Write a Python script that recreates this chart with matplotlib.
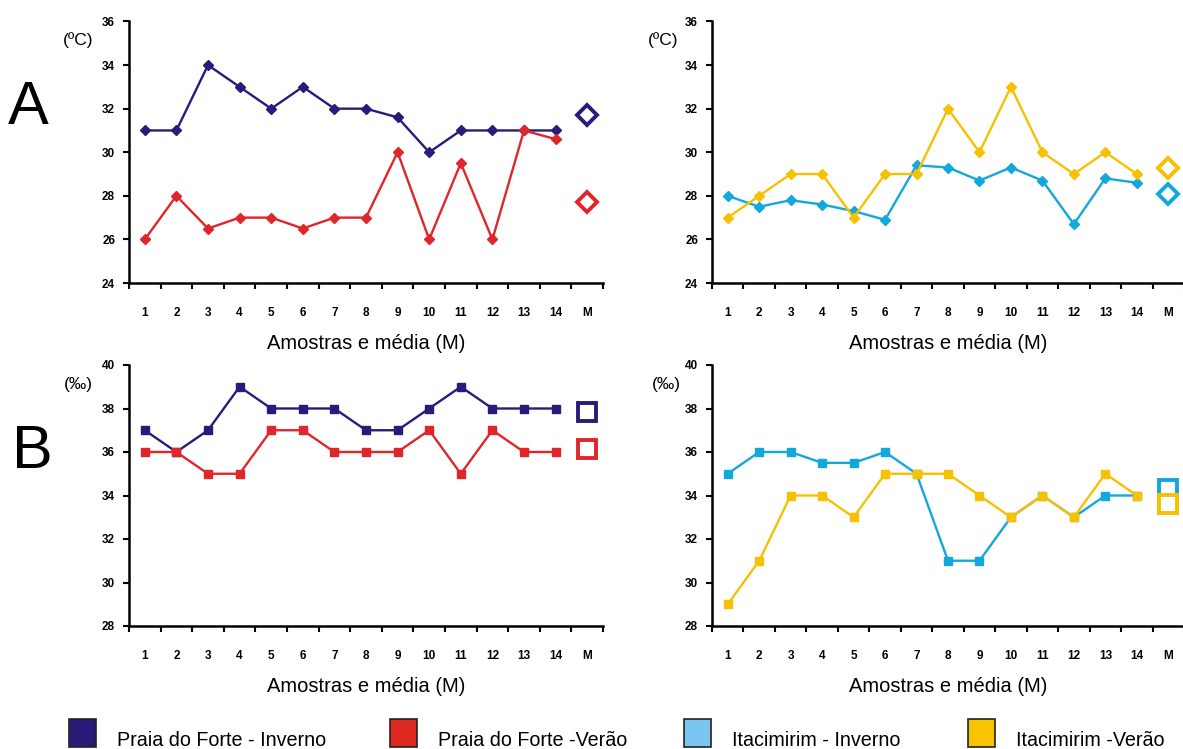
import numpy as np
import matplotlib.pyplot as plt

plt.rcParams['font.family'] = ['Liberation Sans', 'DejaVu Sans']

# sample labels (14 samples + mean)
amostras = [str(i) for i in range(1, 15)]
xlabels = amostras + ['M']

# A - temperature (ºC)
temp_pf_inverno = [31, 31, 34, 33, 32, 33, 32, 32, 31.6, 30, 31, 31, 31, 31]
temp_pf_verao = [26, 28, 26.5, 27, 27, 26.5, 27, 27, 30, 26, 29.5, 26, 31, 30.6]
temp_it_inverno = [28, 27.5, 27.8, 27.6, 27.3, 26.9, 29.4, 29.3, 28.7, 29.3, 28.7, 26.7, 28.8, 28.6]
temp_it_verao = [27, 28, 29, 29, 27, 29, 29, 32, 30, 33, 30, 29, 30, 29]
temp_media = {'pf_inv': 31.7, 'pf_ver': 27.7, 'it_inv': 28.1, 'it_ver': 29.3}

# B - salinity (‰)
sal_pf_inverno = [37, 36, 37, 39, 38, 38, 38, 37, 37, 38, 39, 38, 38, 38]
sal_pf_verao = [36, 36, 35, 35, 37, 37, 36, 36, 36, 37, 35, 37, 36, 36]
sal_it_inverno = [35, 36, 36, 35.5, 35.5, 36, 35, 31, 31, 33, 34, 33, 34, 34]
sal_it_verao = [29, 31, 34, 34, 33, 35, 35, 35, 34, 33, 34, 33, 35, 34]
sal_media = {'pf_inv': 37.85, 'pf_ver': 36.15, 'it_inv': 34.3, 'it_ver': 33.6}

navy = '#261c7a'
red = '#e0262a'
cyan = '#12a8dc'
yellow = '#f7c100'

W, H = 1183, 749
fig = plt.figure(figsize=(W / 100, H / 100), dpi=100)


def px_axes(x0, y0, x1, y1):
    return fig.add_axes([x0 / W, 1 - y1 / H, (x1 - x0) / W, (y1 - y0) / H])


def panel(ax, series, means, colors, marker, ms, yticks):
    x = np.arange(len(amostras))
    for s, c in zip(series, colors):
        ax.plot(x, s, color=c, lw=1.7, marker=marker, ms=ms, mec=c, mfc=c, zorder=3)
    for m, c in zip(means, colors):
        ax.plot([len(amostras)], [m], marker=marker, ms=10.5 if marker == 'D' else 12.5,
                mfc='white', mec=c, mew=2.8, ls='none', clip_on=False, zorder=4)
    ax.set_xlim(-0.5, len(xlabels) - 0.5)
    ax.set_ylim(yticks[0], yticks[-1])
    ax.set_yticks(yticks)
    ax.set_xticks(np.arange(len(xlabels)))
    ax.set_xticklabels(xlabels)
    ax.set_xticks(np.arange(len(xlabels) + 1) - 0.5, minor=True)
    ax.tick_params(axis='x', which='major', length=0, pad=17, labelsize=8.5)
    ax.tick_params(axis='x', which='minor', length=4, width=1.5, direction='out')
    ax.tick_params(axis='y', length=4, width=1.5, pad=6, labelsize=8.5)
    for lab in ax.get_xticklabels() + ax.get_yticklabels():
        lab.set_fontweight('bold')
    for sp in ['top', 'right']:
        ax.spines[sp].set_visible(False)
    for sp in ['left', 'bottom']:
        ax.spines[sp].set_linewidth(1.8)
    ax.set_xlabel('Amostras e média (M)', fontsize=14.5, labelpad=11)


temp_ticks = np.arange(24, 37, 2)
sal_ticks = np.arange(28, 41, 2)

ax1 = px_axes(129, 21.5, 603, 283)
panel(ax1, [temp_pf_inverno, temp_pf_verao], [temp_media['pf_inv'], temp_media['pf_ver']],
      [navy, red], 'D', 5.5, temp_ticks)
ax2 = px_axes(712, 21.5, 1184, 283)
panel(ax2, [temp_it_inverno, temp_it_verao], [temp_media['it_inv'], temp_media['it_ver']],
      [cyan, yellow], 'D', 5.5, temp_ticks)
ax3 = px_axes(129, 365, 603, 626)
panel(ax3, [sal_pf_inverno, sal_pf_verao], [sal_media['pf_inv'], sal_media['pf_ver']],
      [navy, red], 's', 6, sal_ticks)
ax4 = px_axes(712, 365, 1184, 626)
panel(ax4, [sal_it_inverno, sal_it_verao], [sal_media['it_inv'], sal_media['it_ver']],
      [cyan, yellow], 's', 6, sal_ticks)

# units
fig.text(78 / W, 1 - 40 / H, '(ºC)', fontsize=12.5, ha='center', va='center')
fig.text(663 / W, 1 - 40 / H, '(ºC)', fontsize=12.5, ha='center', va='center')
fig.text(78 / W, 1 - 384 / H, '(‰)', fontsize=12.5, ha='center', va='center')
fig.text(666 / W, 1 - 384 / H, '(‰)', fontsize=12.5, ha='center', va='center')

# panel letters
fig.text(28 / W, 1 - 108 / H, 'A', fontsize=44, ha='center', va='center')
fig.text(32 / W, 1 - 453 / H, 'B', fontsize=44, ha='center', va='center')

# legend
leg_names = ['Praia do Forte - Inverno', 'Praia do Forte -Verão',
             'Itacimirim - Inverno', 'Itacimirim -Verão']
leg_colors = ['#2a1a78', '#dd2820', '#7ac6f0', '#f8c400']
leg_x = [69, 390, 684, 968]
for name, c, x0 in zip(leg_names, leg_colors, leg_x):
    fig.patches.append(plt.Rectangle((x0 / W, 1 - 747 / H), 27 / W, 28 / H,
                                     transform=fig.transFigure, fc=c, ec='#222222', lw=1.2))
    fig.text((x0 + 48) / W, 1 - 741 / H, name, fontsize=14.2, ha='left', va='center')

fig.savefig('out.png', dpi=100)
